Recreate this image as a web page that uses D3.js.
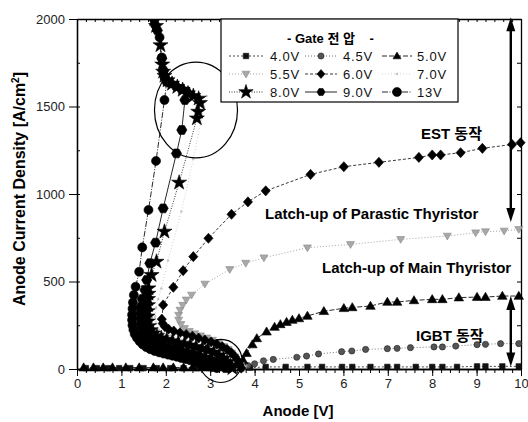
<!DOCTYPE html>
<html>
<head>
<meta charset="utf-8">
<script src="https://cdn.jsdelivr.net/npm/d3@7"></script>
<style>
  body { margin: 0; background: #fff; }
  svg { display: block; font-family: "Liberation Sans", Arial, "Noto Sans CJK KR", sans-serif; }
</style>
</head>
<body>
<div id="chart"></div>
<script>
// ---- data: [anode voltage (V), current density (A/cm2)] ----
const gate40 = [[0.2,5],[0.45,5],[0.7,5],[0.95,5],[1.2,5],[1.5,5],[1.8,5],[2.1,5],[2.4,5],[2.7,5],[3.0,5],[3.3,5],[3.6,5],[3.9,8],
  [4.25,12],[4.7,12],[5.19,12],[5.52,12],[5.97,12],[6.2,12],[6.61,12],[6.99,12],[7.21,12],[7.63,12],[8.0,12],[8.23,12],
  [8.56,12],[9.01,15],[9.2,15],[9.58,15],[9.95,15]];
const gate45 = [[3.7,10],[3.85,20],[4.0,30],[4.2,47],[4.42,55],[4.95,67],[5.17,74],[5.44,86],[5.96,99],[6.19,103],[6.5,112],
  [6.99,116],[7.21,118],[7.51,122],[8.04,126],[8.23,126],[8.53,131],[9.01,139],[9.2,141],[9.54,145],[9.95,145]];
const gate50 = [[0.15,8],[0.37,8],[0.59,8],[0.8,8],[1.1,8],[1.4,8],[1.72,8],[1.94,8],[2.17,8],[2.4,8],[2.6,8],[2.82,8],
  [3.02,8],[3.22,10],[3.45,15],[3.65,25],[3.74,50],[3.82,90],[3.95,140],[4.05,175],[4.27,213],[4.45,240],[4.58,255],
  [4.72,268],[4.85,280],[5.0,289],[5.19,303],[5.56,330],[6.01,347],[6.2,352],[6.61,360],[6.99,383],[7.21,383],[7.59,392],
  [8.0,398],[8.23,398],[8.6,408],[9.01,411],[9.2,411],[9.58,417],[9.95,417]];
const gate55 = [[3.75,5],[3.68,20],[3.62,45],[3.56,70],[3.48,92],[3.4,112],[3.3,130],[3.18,148],[3.05,165],[2.92,178],
  [2.78,190],[2.65,202],[2.53,215],[2.42,232],[2.34,255],[2.29,280],[2.29,308],[2.32,337],[2.38,365],[2.46,395],[2.58,423],
  [2.88,486],[3.44,569],[3.8,605],[4.21,636],[5.19,693],[6.16,712],[7.29,741],[8.34,760],[8.98,779],[9.2,785],[9.62,789],[9.95,798]];
const gate60 = [[3.7,5],[3.66,25],[3.62,48],[3.56,70],[3.48,92],[3.38,112],[3.27,128],[3.15,142],[3.02,155],[2.88,166],
  [2.74,177],[2.6,187],[2.46,197],[2.32,207],[2.18,217],[2.06,228],[1.98,242],[1.93,260],[1.91,285],[1.94,366],[2.17,467],
  [2.39,562],[2.62,642],[2.96,747],[3.48,884],[3.85,955],[4.25,1018],[5.26,1112],[6.01,1156],[6.8,1181],[7.7,1209],[8.0,1223],
  [8.19,1223],[8.64,1236],[9.13,1261],[9.8,1283],[9.99,1293]];
const gate70 = [[3.58,5],[3.5,30],[3.4,55],[3.25,80],[3.1,100],[2.9,122],[2.7,140],[2.5,160],[2.3,178],[2.1,192],[1.95,205],
  [1.84,225],[1.78,260],[1.76,300],[1.78,350],[1.83,400],[1.9,460],[2.05,620],[2.35,900],[2.62,1200],[2.86,1499],[2.92,1560]];
const gate80 = [[3.5,5],[3.45,20],[3.38,40],[3.3,60],[3.2,78],[3.08,94],[2.95,106],[2.82,116],[2.68,126],[2.55,135],[2.42,143],
  [2.28,151],[2.15,159],[2.02,167],[1.9,176],[1.8,188],[1.72,203],[1.66,222],[1.62,245],[1.6,272],[1.59,300],[1.59,330],
  [1.6,365],[1.6,400],[1.61,430],[1.61,461],[1.68,537],[1.79,613],[1.97,785],[2.3,1065],[2.7,1432],[2.73,1470],[2.77,1520],
  [2.74,1545],[2.62,1560],[2.5,1575],[2.38,1595],[2.26,1612],[2.14,1630],[2.04,1650],[1.97,1675],[1.94,1699],[1.92,1740],
  [1.88,1850],[1.78,1960],[1.74,2000]];
const gate90 = [[3.35,5],[3.25,18],[3.15,32],[3.05,45],[2.95,55],[2.85,63],[2.75,71],[2.65,79],[2.55,86],[2.45,93],[2.35,100],
  [2.25,107],[2.15,114],[2.05,121],[1.95,128],[1.85,136],[1.76,146],[1.68,158],[1.6,173],[1.54,190],[1.49,210],[1.46,235],
  [1.44,262],[1.43,290],[1.43,320],[1.44,355],[1.47,400],[1.53,451],[1.57,509],[1.64,604],[1.77,722],[1.94,918],[2.24,1232],
  [2.36,1366],[2.43,1537],[2.47,1585],[2.35,1600],[2.22,1618],[2.1,1635],[1.99,1660],[1.95,1705],[1.91,1775],[1.81,1935],[1.75,2000]];
const gate13 = [[3.15,5],[3.05,12],[2.95,20],[2.85,28],[2.75,35],[2.65,42],[2.55,50],[2.45,57],[2.35,63],[2.25,70],[2.15,76],
  [2.05,82],[1.95,88],[1.85,95],[1.75,103],[1.65,113],[1.56,125],[1.48,140],[1.41,158],[1.35,178],[1.3,200],[1.27,225],
  [1.25,250],[1.24,280],[1.24,310],[1.25,345],[1.26,380],[1.28,423],[1.32,470],[1.4,556],[1.47,695],[1.61,909],[1.78,1189],
  [1.97,1537],[2.02,1640],[1.98,1665],[1.94,1700],[1.91,1780],[1.86,1895],[1.76,1966],[1.73,2000]];

const gateLabels = ["4.0V", "4.5V", "5.0V", "5.5V", "6.0V", "7.0V", "8.0V", "9.0V", "13V"];
const xTicks = [0, 1, 2, 3, 4, 5, 6, 7, 8, 9, 10];
const yTicks = [0, 500, 1000, 1500, 2000];
// double arrows [x, yFrom, yTo] and marked ellipses [cx, cy, rx, ry] in data units
const arrowsData = [[9.77, 2010, 840], [9.77, 417, 15]];
const ellipseData = [[2.68, 1480, 0.935, 274], [3.24, 46, 0.48, 123]];

const fontFam = '"Liberation Sans", Arial, "Noto Sans CJK KR", sans-serif';

// ---- size & scales ----
const width = 528, height = 422;
const svg = d3.select("#chart").append("svg")
  .attr("width", width).attr("height", height);

const x = d3.scaleLinear().domain([0, 10]).range([77, 521]);
const y = d3.scaleLinear().domain([0, 2000]).range([369, 19]);

// custom marker shapes (size = approx. diameter squared)
const diamondSym = { draw(c, s) { const r = Math.sqrt(s) / 2; c.moveTo(0, -r * 1.1); c.lineTo(r, 0); c.lineTo(0, r * 1.1); c.lineTo(-r, 0); c.closePath(); } };
const triDownSym = { draw(c, s) { const r = Math.sqrt(s) / 2; c.moveTo(-r, -r * 0.7); c.lineTo(r, -r * 0.7); c.lineTo(0, r); c.closePath(); } };
const triUpSym = { draw(c, s) { const r = Math.sqrt(s) / 2; c.moveTo(-r, r * 0.7); c.lineTo(r, r * 0.7); c.lineTo(0, -r); c.closePath(); } };
const hexSym = { draw(c, s) { const r = Math.sqrt(s) / 2;
  for (let i = 0; i < 6; i++) { const a = Math.PI / 3 * i; i ? c.lineTo(r * Math.cos(a), r * Math.sin(a)) : c.moveTo(r, 0); }
  c.closePath(); } };

const series = [
  { name: gateLabels[0], data: gate40, sym: d3.symbolSquare, size: 30, fill: "#111", stroke: "#111", dash: "2,2", lc: "#333" },
  { name: gateLabels[1], data: gate45, sym: d3.symbolCircle, size: 30, fill: "#555", stroke: "#222", dash: "1,2", lc: "#666" },
  { name: gateLabels[2], data: gate50, sym: triUpSym, size: 90, fill: "#000", stroke: "#000", dash: "5,2", lc: "#111" },
  { name: gateLabels[3], data: gate55, sym: triDownSym, size: 64, fill: "#a8a8a8", stroke: "#888", dash: "1,2", lc: "#999" },
  { name: gateLabels[4], data: gate60, sym: diamondSym, size: 85, fill: "#000", stroke: "#000", dash: "3,2", lc: "#222" },
  { name: gateLabels[5], data: gate70, sym: d3.symbolCircle, size: 5, fill: "#c4c4c4", stroke: "none", dash: "1,2", lc: "#ccc" },
  { name: gateLabels[6], data: gate80, sym: d3.symbolStar, size: 70, fill: "#000", stroke: "#000", dash: "1,1.5", lc: "#222" },
  { name: gateLabels[7], data: gate90, sym: hexSym, size: 105, fill: "#000", stroke: "#000", dash: null, lc: "#111" },
  { name: gateLabels[8], data: gate13, sym: d3.symbolCircle, size: 64, fill: "#000", stroke: "#000", dash: "6,1.5,1,1.5", lc: "#111" }
];

// ---- axes ----
function styleAxis(g) {
  g.attr("font-family", fontFam);
  g.selectAll("path.domain").attr("stroke", "#000").attr("stroke-width", 1.3);
  g.selectAll(".tick line").attr("stroke", "#000").attr("stroke-width", 1);
  g.selectAll("text").attr("fill", "#222").style("font-size", "13px");
}
const minorX = d3.range(0, 10.01, 0.2);
const minorY = d3.range(0, 2001, 250);

// bottom
svg.append("g").attr("transform", "translate(0,369)")
  .call(d3.axisBottom(x).tickValues(minorX).tickSize(4).tickFormat("").tickSizeOuter(0)).call(styleAxis);
svg.append("g").attr("transform", "translate(0,369)")
  .call(d3.axisBottom(x).tickValues(xTicks).tickSize(7).tickPadding(3).tickSizeOuter(0).tickFormat(d3.format("d")))
  .call(styleAxis);
// top (inside ticks)
svg.append("g").attr("transform", "translate(0,19)")
  .call(d3.axisBottom(x).tickValues(minorX).tickSize(3).tickFormat("").tickSizeOuter(0)).call(styleAxis);
// left
svg.append("g").attr("transform", "translate(77,0)")
  .call(d3.axisRight(y).tickValues(minorY).tickSize(3).tickFormat("").tickSizeOuter(0)).call(styleAxis);
svg.append("g").attr("transform", "translate(77,0)")
  .call(d3.axisLeft(y).tickValues(yTicks).tickSize(8).tickPadding(4).tickSizeOuter(0).tickFormat(d3.format("d")))
  .call(styleAxis);
// right (inside ticks)
svg.append("g").attr("transform", "translate(521,0)")
  .call(d3.axisLeft(y).tickValues(minorY).tickSize(4).tickFormat("").tickSizeOuter(0)).call(styleAxis);

// axis titles
const yTitle = svg.append("text")
  .attr("transform", "translate(25,189) rotate(-90)")
  .attr("text-anchor", "middle")
  .style("font-size", "16px").style("font-weight", "bold");
yTitle.append("tspan").text("Anode Current Density [A/cm");
yTitle.append("tspan").attr("dy", -6).style("font-size", "10px").text("2");
yTitle.append("tspan").attr("dy", 6).text("]");
svg.append("text")
  .attr("x", 298).attr("y", 416).attr("text-anchor", "middle")
  .style("font-size", "15px").style("font-weight", "bold")
  .text("Anode [V]");

// ---- curves ----
svg.append("clipPath").attr("id", "clip")
  .append("rect").attr("x", 60).attr("y", 19).attr("width", 470).attr("height", 380);
const plot = svg.append("g").attr("clip-path", "url(#clip)");

const line = d3.line().x(d => x(d[0])).y(d => y(d[1]));

plot.selectAll(".curve")
  .data(series)
  .join("path")
  .attr("class", "curve")
  .attr("d", d => line(d.data))
  .attr("fill", "none")
  .attr("stroke", d => d.lc)
  .attr("stroke-width", 0.9)
  .attr("stroke-dasharray", d => d.dash);

const groups = plot.selectAll(".marks")
  .data(series)
  .join("g")
  .attr("class", "marks");

groups.selectAll("path")
  .data(s => s.data.map(p => ({ p, s })))
  .join("path")
  .attr("transform", d => `translate(${x(d.p[0])},${y(d.p[1])})`)
  .attr("d", d => d3.symbol().type(d.s.sym).size(d.s.size)())
  .attr("fill", d => d.s.fill)
  .attr("stroke", d => d.s.stroke)
  .attr("stroke-width", 0.6);

// ---- ellipses ----
svg.selectAll(".ring")
  .data(ellipseData)
  .join("ellipse")
  .attr("class", "ring")
  .attr("cx", d => x(d[0])).attr("cy", d => y(d[1]))
  .attr("rx", d => x(d[2]) - x(0)).attr("ry", d => y(0) - y(d[3]))
  .attr("fill", "none").attr("stroke", "#000").attr("stroke-width", 1.2);

// ---- double arrows ----
arrowsData.forEach(a => {
  const ax = x(a[0]), y1 = y(a[1]), y2 = y(a[2]);
  const g = svg.append("g");
  g.append("line").attr("x1", ax).attr("x2", ax).attr("y1", y1 + 6).attr("y2", y2 - 6)
    .attr("stroke", "#000").attr("stroke-width", 2.4);
  g.append("path").attr("d", `M${ax},${y1} L${ax - 4.5},${y1 + 14} L${ax + 4.5},${y1 + 14} Z`).attr("fill", "#000");
  g.append("path").attr("d", `M${ax},${y2} L${ax - 4.5},${y2 - 14} L${ax + 4.5},${y2 - 14} Z`).attr("fill", "#000");
});

// ---- annotation labels ----
const notes = [
  { t: "EST 동작", x: 421, y: 139 },
  { t: "Latch-up of Parastic Thyristor", x: 265, y: 219 },
  { t: "Latch-up of Main Thyristor", x: 322, y: 273 },
  { t: "IGBT 동작", x: 416, y: 341 }
];
svg.selectAll(".note")
  .data(notes)
  .join("text")
  .attr("class", "note")
  .attr("x", d => d.x).attr("y", d => d.y)
  .style("font-size", "15px").style("font-weight", "bold")
  .text(d => d.t);

// ---- legend ----
const legend = svg.append("g");
legend.append("rect")
  .attr("x", 221).attr("y", 19).attr("width", 237).attr("height", 83)
  .attr("fill", "#fff").attr("stroke", "#000").attr("stroke-width", 1.2);
legend.append("text")
  .attr("x", 287).attr("y", 43)
  .style("font-size", "13px").style("font-weight", "bold").style("white-space", "pre")
  .text("- Gate 전 압    -");

const colX = [[229, 263, 270], [305, 337, 343], [382, 412, 417]];
const rowY = [56, 74, 92];
const items = legend.selectAll(".item")
  .data(series)
  .join("g")
  .attr("class", "item")
  .attr("transform", (d, i) => `translate(0,${rowY[Math.floor(i / 3)]})`);
items.append("line")
  .attr("x1", (d, i) => colX[i % 3][0]).attr("x2", (d, i) => colX[i % 3][1])
  .attr("stroke", d => d.lc).attr("stroke-width", 0.9).attr("stroke-dasharray", d => d.dash);
items.append("path")
  .attr("transform", (d, i) => `translate(${(colX[i % 3][0] + colX[i % 3][1]) / 2},0)`)
  .attr("d", d => d3.symbol().type(d.sym).size(Math.min(d.size, 64))())
  .attr("fill", d => d.fill).attr("stroke", d => d.stroke).attr("stroke-width", 0.6);
items.append("text")
  .attr("x", (d, i) => colX[i % 3][2]).attr("y", 5)
  .style("font-size", "13px").style("letter-spacing", "0.8px").attr("fill", "#111")
  .text(d => d.name);
</script>
</body>
</html>
